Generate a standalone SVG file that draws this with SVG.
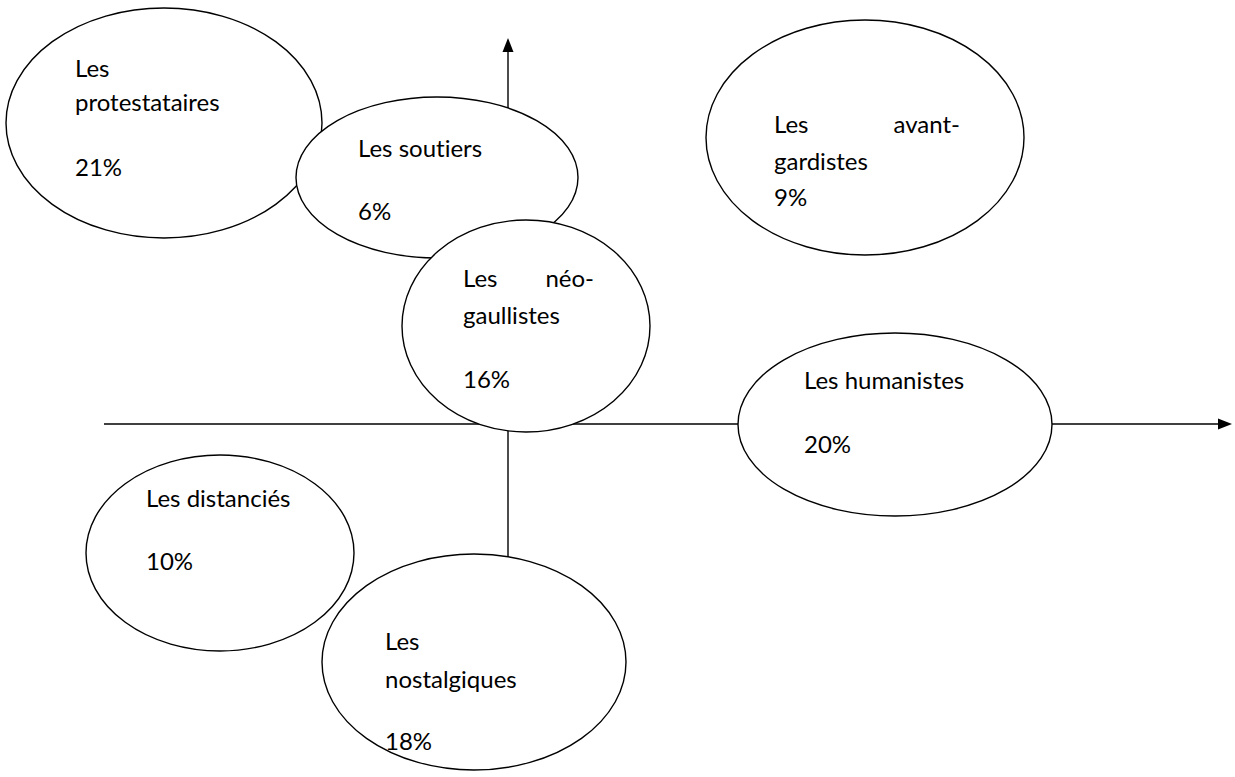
<svg xmlns="http://www.w3.org/2000/svg" width="1235" height="777" viewBox="0 0 1235 777">
<defs>
<style>
.e{fill:#fff;stroke:#000;stroke-width:1.4}
.ax{stroke:#000;stroke-width:1.4;fill:none}
text{font-family:Lato,"Liberation Sans",sans-serif;font-size:24px;fill:#000;font-variant-ligatures:none;font-feature-settings:"liga" 0}
</style>
</defs>
<rect width="1235" height="777" fill="#fff"/>
<g id="connectors">
<line class="ax" x1="104" y1="424" x2="1222" y2="424"/>
<path d="M1232,424 L1218,418.5 L1218,429.5 Z"/>
<line class="ax" x1="508" y1="562" x2="508" y2="52"/>
<path d="M508,38 L502.5,52 L513.5,52 Z"/>
</g>
<g id="protestataires">
<ellipse class="e" cx="164" cy="123" rx="158" ry="115"/>
<text x="75" y="77">Les</text>
<text x="75" y="111">protestataires</text>
<text x="75" y="176">21%</text>
</g>
<g id="soutiers">
<ellipse class="e" cx="437" cy="177.5" rx="141" ry="80.5"/>
<text x="358" y="157">Les soutiers</text>
<text x="358" y="220">6%</text>
</g>
<g id="neogaullistes">
<ellipse class="e" cx="526" cy="326" rx="124" ry="106"/>
<text x="463" y="287">Les</text>
<text x="594" y="287" text-anchor="end">néo-</text>
<text x="463" y="324">gaullistes</text>
<text x="463" y="388">16%</text>
</g>
<g id="avantgardistes">
<ellipse class="e" cx="865" cy="137.5" rx="159" ry="117.5"/>
<text x="774" y="133">Les</text>
<text x="960" y="133" text-anchor="end">avant-</text>
<text x="774" y="170">gardistes</text>
<text x="774" y="206">9%</text>
</g>
<g id="humanistes">
<ellipse class="e" cx="895" cy="424.5" rx="157" ry="91.5"/>
<text x="804" y="389">Les humanistes</text>
<text x="804" y="453">20%</text>
</g>
<g id="distancies">
<ellipse class="e" cx="220" cy="553" rx="134" ry="98"/>
<text x="146" y="507">Les distanciés</text>
<text x="146" y="570">10%</text>
</g>
<g id="nostalgiques">
<ellipse class="e" cx="474" cy="662" rx="152" ry="108"/>
<text x="385" y="650">Les</text>
<text x="385" y="688">nostalgiques</text>
<text x="385" y="750">18%</text>
</g>
</svg>
